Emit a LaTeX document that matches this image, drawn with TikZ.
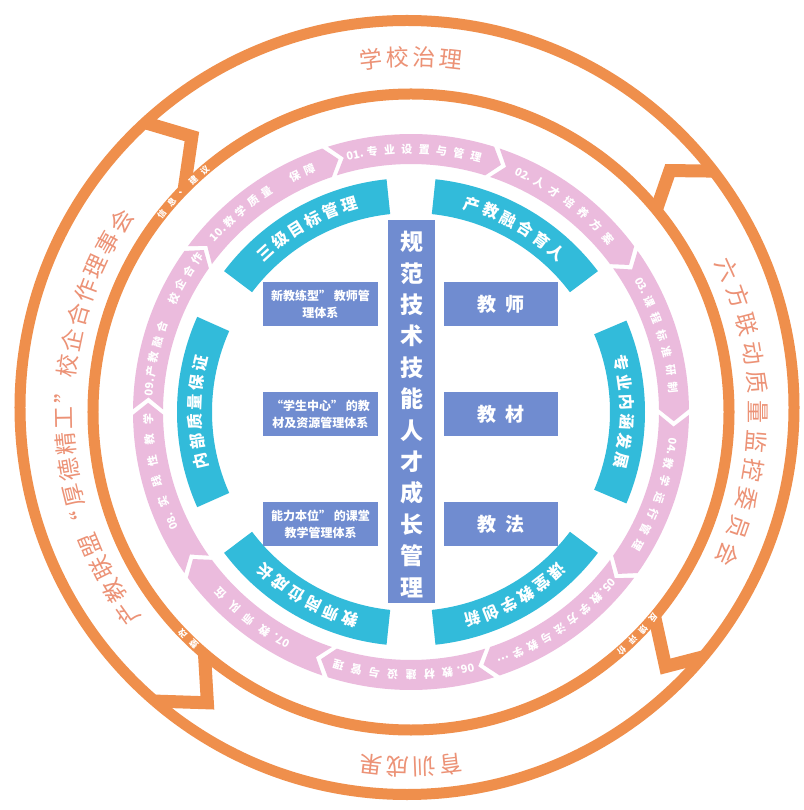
\documentclass[tikz,border=0pt]{standalone}
\usepackage{fontspec}
\setmainfont{Noto Sans CJK SC}
\definecolor{orng}{RGB}{239,143,76}
\definecolor{orngtxt}{RGB}{236,146,118}
\definecolor{pinkc}{RGB}{235,187,221}
\definecolor{cyanc}{RGB}{50,187,218}
\definecolor{bluec}{RGB}{112,140,208}
% #1 name prefix, #2 radius, #3 centre angle, #4 step, #5 count, #6 style, #7 list
\newcommand\arctext[7]{%
  \foreach \ch [count=\i] in {#7} {%
    \pgfmathsetmacro\atAng{#3+((#5+1)/2-\i)*#4}%
    \pgfmathsetmacro\atRot{\atAng-90}%
    \node[#6, rotate=\atRot] (#1-\i) at (\atAng:#2) {\ch};
  }}
\newcommand\pinkseg[1]{%
  \pgfmathsetmacro\sgA{#1+17.4}\pgfmathsetmacro\sgB{#1-17.4}%
  \pgfmathsetmacro\sgH{#1-20}\pgfmathsetmacro\sgN{#1+14.8}%
  \fill[pinkc] (\sgA:278) arc[start angle=\sgA,end angle=\sgB,radius=278pt]
    -- (\sgH:263) -- (\sgB:248) arc[start angle=\sgB,end angle=\sgA,radius=248pt]
    -- (\sgN:263) -- cycle;}
\newcommand\cyanseg[2]{%
  \fill[cyanc] (#1:234) arc[start angle=#1,end angle=#2,radius=234pt]
    -- (#2:199) arc[start angle=#2,end angle=#1,radius=199pt] -- cycle;}
\tikzset{
  smallw/.style={inner sep=0pt, text=white, font=\fontsize{8.5}{8.5}\selectfont\bfseries},
  bigo/.style={inner sep=0pt, text=orngtxt, font=\fontsize{23}{23}\selectfont},
  pinkt/.style={inner sep=0pt, text=white, font=\fontsize{11}{11}\selectfont\bfseries},
  cyant/.style={inner sep=0pt, text=white, font=\fontsize{16}{16}\selectfont\bfseries},
  bbox/.style={fill=bluec, inner sep=0pt, text=white, align=center},
  ringline/.style={draw=orng, line width=11pt},
  chev/.style={draw=orng, line width=13pt, line join=miter},
}
\begin{document}
\begin{tikzpicture}[x=1pt,y=1pt]
\useasboundingbox (-411,-398) rectangle (392,412);
\fill[white] (-411,-398) rectangle (392,412);
% orange rings
\draw[ringline] (-4,4.5) circle[radius=387pt];
\draw[ringline] (0,0) circle[radius=318pt];
% chevron connectors
\draw[chev] (132.5:392) -- (128.5:352) -- (135.5:318);
\draw[chev] (38.5:387) -- (43:354) -- (39.5:318);
\draw[chev] (-40:318) -- (-45:360) -- (-40:381);
\draw[chev] (229.5:318) -- (235:355) -- (228.5:386);
% small labels on inner ring
\arctext{s1}{318}{136}{2.8}{5}{smallw}{信,息,、,建,议}
\arctext{s2}{318}{-44.5}{2.7}{4}{smallw}{反,馈,评,价}
\arctext{s3}{318}{225.5}{2.8}{2}{smallw}{整,改}
% big orange labels
\arctext{L1}{355}{90}{4.3}{4}{bigo}{学,校,治,理}
\arctext{L2}{347}{0}{4.85}{11}{bigo}{六,方,联,动,质,量,监,控,委,员,会}
\arctext{L3}{355}{-90}{4.3}{4}{bigo}{育,训,成,果}
\arctext{L4}{347}{181}{4.3}{17}{bigo}{产,教,联,盟,“,厚,德,精,工,”,校,企,合,作,理,事,会}
% pink arrow ring
\foreach \c in {90,54,18,-18,-54,-90,-126,-162,162,126} {\pinkseg{\c}}
\arctext{p1}{263}{89}{3.8}{8}{pinkt}{01.,专,业,设,置,与,管,理}
\arctext{p2}{263}{53}{3.9}{7}{pinkt}{02.,人,才,培,养,方,案}
\arctext{p3}{263}{17}{3.9}{7}{pinkt}{03.,课,程,标,准,研,制}
\arctext{p4}{263}{-19}{3.8}{7}{pinkt}{04.,教,学,运,行,管,理}
\arctext{p5}{263}{-55.5}{3.5}{9}{pinkt}{05.,教,学,方,法,与,教,学,…}
\arctext{p6}{263}{-92}{4.0}{8}{pinkt}{06.,教,材,建,设,与,管,理}
\arctext{p7}{263}{-128}{4.2}{5}{pinkt}{07.,教,师,队,伍}
\arctext{p8}{263}{-167}{4.6}{6}{pinkt}{08.,实,践,性,教,学}
\arctext{p9}{263}{159.5}{3.35}{10}{pinkt}{09.,产,教,融,合,~,校,企,合,作}
\arctext{p10}{263}{125}{3.5}{8}{pinkt}{10.,教,学,质,量,~,保,障}
% cyan ring
\cyanseg{96}{143}
\cyanseg{37}{84}
\cyanseg{-23}{23}
\cyanseg{-84}{-37}
\cyanseg{217}{264}
\cyanseg{156}{204}
\arctext{c1}{216}{119.5}{5.2}{6}{cyant}{三,级,目,标,管,理}
\arctext{c2}{216}{60.5}{5.2}{6}{cyant}{产,教,融,合,育,人}
\arctext{c3}{216}{0}{5.2}{6}{cyant}{专,业,内,涵,发,展}
\arctext{c4}{216}{-60.5}{5.2}{6}{cyant}{课,堂,教,学,创,新}
\arctext{c5}{216}{240.5}{5.2}{6}{cyant}{教,师,岗,位,成,长}
\arctext{c6}{216}{180}{5.2}{6}{cyant}{内,部,质,量,保,证}
% centre boxes
\node[bbox, minimum width=47pt, minimum height=383pt] (core) at (0.5,0.5) {};
\node[inner sep=0pt, text=white, align=center, font=\fontsize{23}{31.4}\selectfont\bfseries] (coretext) at (0.5,-2.5)
  {规\\范\\技\\术\\技\\能\\人\\才\\成\\长\\管\\理};
\tikzset{lbox/.style={bbox, minimum width=115pt, minimum height=44pt, font=\fontsize{12}{17}\selectfont\bfseries},
         rbox/.style={bbox, minimum width=114pt, minimum height=44pt, font=\fontsize{19}{19}\selectfont\bfseries}}
\node[lbox] (lb1) at (-90.5,107.5) {新教练型” 教师管\\理体系};
\node[lbox] (lb2) at (-90.5,-2.5) {“学生中心” 的教\\材及资源管理体系};
\node[lbox] (lb3) at (-90.5,-112) {能力本位” 的课堂\\教学管理体系};
\node[rbox] (rb1) at (90,107.5) {教\hspace{9pt}师};
\node[rbox] (rb2) at (90,-2.5) {教\hspace{9pt}材};
\node[rbox] (rb3) at (90,-112) {教\hspace{9pt}法};
\end{tikzpicture}
\end{document}
